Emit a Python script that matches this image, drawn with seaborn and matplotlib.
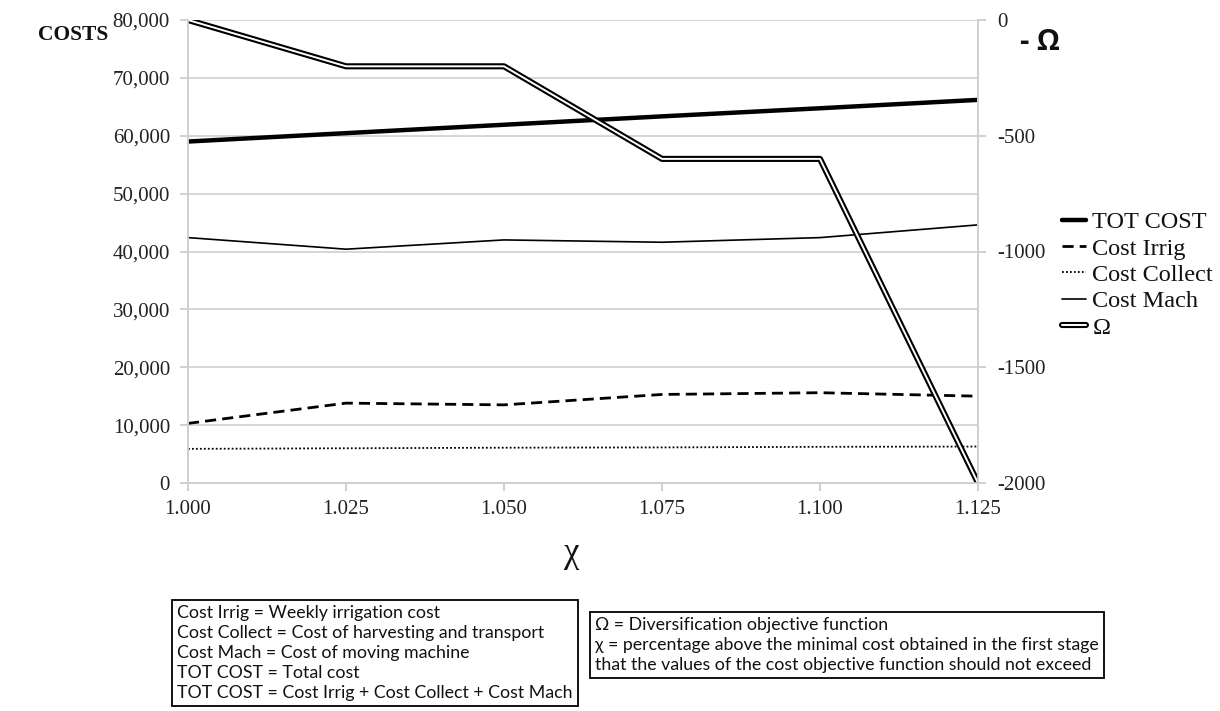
import matplotlib
matplotlib.use("Agg")
import matplotlib.pyplot as plt
import matplotlib.patheffects as pe
import seaborn as sns
import pandas as pd
from matplotlib.ticker import FuncFormatter

chi = [1.000, 1.025, 1.050, 1.075, 1.100, 1.125]
tot_cost = [59000, 60450, 61900, 63350, 64750, 66200]
cost_irrig = [10300, 13800, 13500, 15300, 15600, 15000]
cost_collect = [5900, 6000, 6100, 6150, 6250, 6300]
cost_mach = [42400, 40400, 42000, 41600, 42400, 44600]
omega = [0, -200, -200, -600, -600, -2000]
xtick_labels = ["1.000", "1.025", "1.050", "1.075", "1.100", "1.125"]

sns.set_theme(style="white")
plt.rcParams["font.family"] = ["Liberation Serif", "DejaVu Serif"]

fig = plt.figure(figsize=(12.2, 7.11), dpi=100)
ax = fig.add_axes([188/1220, 1-483/711, (978-188)/1220, (483-20)/711])
ax2 = ax.twinx()

df = pd.DataFrame({"chi": chi, "tot": tot_cost, "irr": cost_irrig,
                   "col": cost_collect, "mach": cost_mach, "om": omega})

sns.lineplot(data=df, x="chi", y="tot", ax=ax, color="black", lw=3.2, label="TOT COST", legend=False)
sns.lineplot(data=df, x="chi", y="irr", ax=ax, color="black", lw=2.0, linestyle=(0, (4, 2.2)), label="Cost Irrig", legend=False)
sns.lineplot(data=df, x="chi", y="col", ax=ax, color="black", lw=1.3, linestyle=(0, (1, 1.2)), label="Cost Collect", legend=False)
sns.lineplot(data=df, x="chi", y="mach", ax=ax, color="black", lw=1.2, label="Cost Mach", legend=False)
sns.lineplot(data=df, x="chi", y="om", ax=ax2, color="white", lw=1.4, label="Ω", legend=False,
             path_effects=[pe.Stroke(linewidth=4.4, foreground="black"), pe.Normal()])

ax.set_xlim(1.0, 1.125)
ax.set_ylim(0, 80000)
ax2.set_ylim(-2000, 0)
ax.set_xticks(chi)
ax.set_xticklabels(xtick_labels)
ax.set_yticks(range(0, 80001, 10000))
ax.yaxis.set_major_formatter(FuncFormatter(lambda v, p: f"{int(v):,}"))
ax2.set_yticks(range(-2000, 1, 500))
ax2.set_yticklabels([str(v) for v in range(-2000, 1, 500)])

ax.grid(axis="y", color="#d0d0d0", lw=1.2)
ax.grid(axis="x", visible=False)
ax2.grid(False)
for a in (ax, ax2):
    for s in a.spines.values():
        s.set_visible(False)
    for side in ("left", "right", "bottom"):
        a.spines[side].set_visible(True)
        a.spines[side].set_color("#d0d0d0")
        a.spines[side].set_linewidth(1.2)
    a.set_xlabel("")
    a.set_ylabel("")

ax.tick_params(axis="both", labelsize=15, colors="#c8c8c8", labelcolor="#222222",
               length=6, width=1.2, direction="out", pad=7)
ax.tick_params(axis="x", pad=6, bottom=True)
ax.tick_params(axis="y", left=True, right=False)
ax2.tick_params(axis="y", labelsize=15, colors="#c8c8c8", labelcolor="#222222",
                length=6, width=1.2, direction="out", pad=8, right=True)

fig.text(38/1220, 1-35/711, "COSTS", fontsize=15.5, fontweight="bold", ha="left", va="center", color="#111111")
fig.text(1020/1220, 1-42/711, "- Ω", fontsize=21, fontweight="bold", ha="left", va="center",
         family=["Open Sans", "DejaVu Sans"], color="#111111")
fig.text(572/1220, 1-553/711, "χ", fontsize=25, ha="center", va="center", color="#111111")

h1, l1 = ax.get_legend_handles_labels()
h2, l2 = ax2.get_legend_handles_labels()
leg = fig.legend(h1 + h2, l1 + l2, loc="center left", bbox_to_anchor=(1062/1220, 1-275/711),
                 frameon=False, fontsize=17.5, handlelength=1.0, handletextpad=0.25,
                 labelspacing=0.18, borderaxespad=0, borderpad=0)
for t in leg.get_texts():
    t.set_color("#111111")

box_kw = dict(boxstyle="square,pad=0.3", facecolor="white", edgecolor="black", linewidth=1.3)
left_text = ("Cost Irrig = Weekly irrigation cost\n"
             "Cost Collect = Cost of harvesting and transport\n"
             "Cost Mach = Cost of moving machine\n"
             "TOT COST = Total cost\n"
             "TOT COST = Cost Irrig + Cost Collect + Cost Mach")
right_text = ("Ω = Diversification objective function\n"
              "χ = percentage above the minimal cost obtained in the first stage\n"
              "that the values of the cost objective function should not exceed")
fig.text(177/1220, 1-653/711, left_text, fontsize=12.8, ha="left", va="center", linespacing=1.31,
         family=["Lato", "DejaVu Sans"], bbox=box_kw, color="#111111")
fig.text(595/1220, 1-645/711, right_text, fontsize=12.8, ha="left", va="center", linespacing=1.31,
         family=["Lato", "DejaVu Sans"], bbox=box_kw, color="#111111")

fig.savefig("out.png", dpi=100, facecolor="white")
